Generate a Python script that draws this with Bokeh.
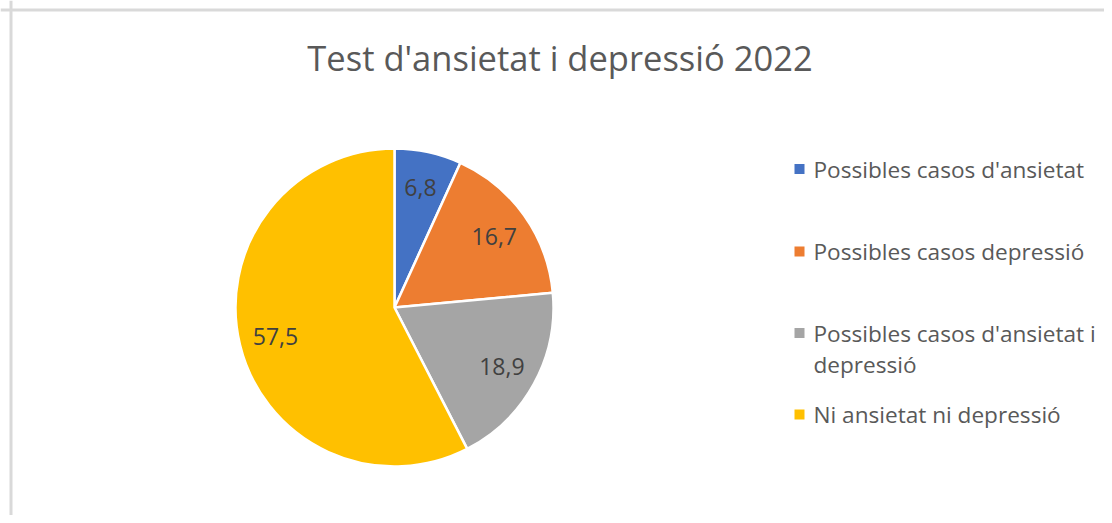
import numpy as np
from bokeh.plotting import figure
from bokeh.models import Range1d, Span, ColumnDataSource
from bokeh.core.properties import value
from bokeh.embed import file_html
from bokeh.resources import INLINE

# ---- data ----
categories = ["Possibles casos d'ansietat", "Possibles casos depressió",
              "Possibles casos d'ansietat i depressió", "Ni ansietat ni depressió"]
legend_lines = [["Possibles casos d'ansietat"], ["Possibles casos depressió"],
                ["Possibles casos d'ansietat i", "depressió"], ["Ni ansietat ni depressió"]]
values = [6.8, 16.7, 18.9, 57.5]
labels = ["6,8", "16,7", "18,9", "57,5"]
colors = ["#4472C4", "#ED7D31", "#A5A5A5", "#FFC000"]
title_text = "Test d'ansietat i depressió 2022"

# ---- layout (pixel-like units, y measured from the top) ----
W, H = 1104, 515
FONT = "Open Sans"
def Y(py):
    return H - py

cx, cy, R = 394, Y(307), 159
legend_y = [168.5, 251, 332.5, 414]
line_gap = 31.5
legend_sq_x, legend_txt_x = 799, 813

p = figure(width=W, height=H, output_backend="svg", toolbar_location=None,
           x_range=Range1d(0, W), y_range=Range1d(0, H), min_border=0)
p.axis.visible = False
p.grid.visible = False
p.outline_line_color = None
p.background_fill_color = "white"
p.border_fill_color = "white"

# chart frame (left and top edges visible)
p.add_layout(Span(location=10.5, dimension="height", line_color="#d9d9d9", line_width=3))
p.add_layout(Span(location=Y(9.5), dimension="width", line_color="#d9d9d9", line_width=3))

# pie wedges: start at 12 o'clock, clockwise
frac = np.array(values) / np.sum(values)
cum = np.concatenate([[0], np.cumsum(frac)])
start = np.pi / 2 - cum[:-1] * 2 * np.pi
end = np.pi / 2 - cum[1:] * 2 * np.pi
src = ColumnDataSource(dict(start=end, end=start, color=colors, cat=categories))
p.wedge(x=cx, y=cy, radius=R, start_angle="start", end_angle="end",
        fill_color="color", line_color="white", line_width=2.5, source=src)

# data labels
mid = (start + end) / 2
lx = cx + 0.77 * R * np.cos(mid)
ly = cy + 0.77 * R * np.sin(mid)
p.text(x=list(lx), y=list(ly), text=labels, text_font=value(FONT),
       text_font_size="23px", text_color="#404040", text_align="center",
       text_baseline="middle")

# title
p.text(x=[559.5], y=[Y(57)], text=[title_text], text_font=value(FONT),
       text_font_size="34.5px", text_color="#595959", text_align="center",
       text_baseline="middle")

# legend (manual)
for i, (lines, col) in enumerate(zip(legend_lines, colors)):
    y0 = legend_y[i]
    p.rect(x=[legend_sq_x], y=[Y(y0)], width=10, height=10, width_units="screen",
           height_units="screen", fill_color=col, line_color=None)
    ys = [Y(y0 + k * line_gap) for k in range(len(lines))]
    p.text(x=[legend_txt_x] * len(lines), y=ys, text=lines, text_font=value(FONT),
           text_font_size="22.6px", text_color="#595959", text_align="left",
           text_baseline="middle")

open("out.html", "w").write(file_html(p, INLINE))
